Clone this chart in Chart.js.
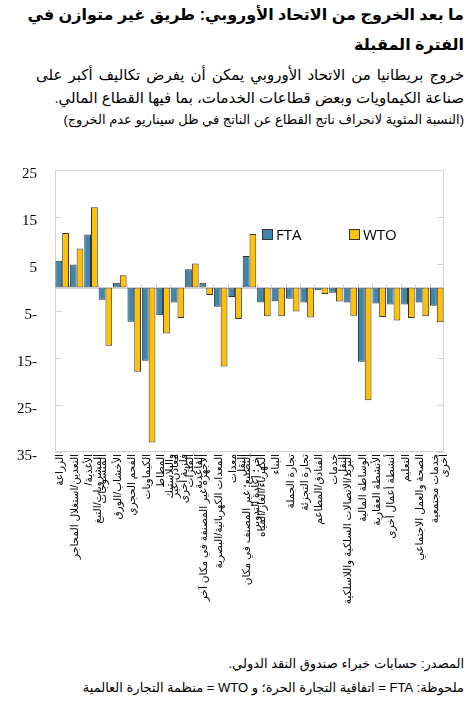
<!DOCTYPE html>
<html lang="ar">
<head>
<meta charset="utf-8">
<script src="https://cdn.jsdelivr.net/npm/chart.js@4.4.1/dist/chart.umd.min.js"></script>
<style>
  html, body { margin: 0; padding: 0; background: #fff; }
  body { width: 472px; height: 709px; position: relative; overflow: hidden;
         font-family: "Liberation Sans", "DejaVu Sans", sans-serif; color: #000; }
  .txt { position: absolute; right: 8px; direction: rtl; text-align: right; white-space: nowrap; }
  .just { position: absolute; right: 8px; direction: rtl; white-space: nowrap; text-align: justify; text-align-last: justify; }
  #title1 { top: 3px; width: 428px; font-size: 16px; font-weight: bold; line-height: 24px; }
  #title2 { top: 33px; font-size: 16px; font-weight: bold; line-height: 24px; }
  #sub1 { top: 64px; width: 428px; font-size: 15px; line-height: 22px; }
  #sub2 { top: 87px; font-size: 15px; line-height: 22px; }
  #unit { top: 112px; font-size: 13px; }
  #notes { top: 652px; font-size: 13px; line-height: 24px; }
  #chartBox { position: absolute; left: 0; top: 143px; width: 472px; height: 507px; }
  #chartBox canvas { direction: rtl; }
  .lg { position: absolute; font-size: 15px; line-height: 15px; font-family: "Open Sans", "Liberation Sans", sans-serif; }
  .lg i { position: absolute; width: 9px; height: 9px; border: 1px solid #333; top: 2px; left: -14px; }
</style>
</head>
<body>
<div id="title1" class="just">ما بعد الخروج من الاتحاد الأوروبي: طريق غير متوازن في</div>
<div id="title2" class="txt">الفترة المقبلة</div>
<div id="sub1" class="just">خروج بريطانيا من الاتحاد الأوروبي يمكن أن يفرض تكاليف أكبر على</div>
<div id="sub2" class="txt">صناعة الكيماويات وبعض قطاعات الخدمات، بما فيها القطاع المالي.</div>
<div id="unit" class="txt">(النسبة المئوية لانحراف ناتج القطاع عن الناتج في ظل سيناريو عدم الخروج)</div>

<div id="chartBox"><canvas id="chart"></canvas></div>
<div class="lg" style="left:276px; top:227px;"><i style="background:#3f86ad"></i>FTA</div>
<div class="lg" style="left:363px; top:227px;"><i style="background:#ffc000"></i>WTO</div>

<div id="notes" class="txt">المصدر: حسابات خبراء صندوق النقد الدولي.<br>ملحوظة: FTA = اتفاقية التجارة الحرة؛ و WTO = منظمة التجارة العالمية</div>

<script>
/* ------------------- DATA ------------------- */
const categories = [
  "الزراعة",
  "التعدين/استغلال المحاجر",
  ["الأغذية/", "المشروبات/التبغ"],
  "المنسوجات",
  "الأخشاب/الورق",
  "الفحم الحجري",
  "الكيماويات",
  ["المطاط", "والبلاستيك"],
  ["معادن غير", "فلزية أخرى"],
  ["الفلزات", "القاعدية"],
  "الأجهزة غير المصنفة في مكان آخر",
  "المعدات الكهربائية/البصرية",
  ["معدات", "النقل"],
  ["التصنيع؛ غير المصنف في مكان", "آخر؛ إعادة التدوير"],
  "الكهرباء/الغاز/المياه",
  "البناء",
  "تجارة الجملة",
  "تجارة التجزئة",
  "الفنادق/المطاعم",
  ["خدمات", "النقل"],
  "البريد/الاتصالات السلكية واللاسلكية",
  "الوساطة المالية",
  "الأنشطة العقارية",
  "أنشطة أعمال أخرى",
  "التعليم",
  "الصحة والعمل الاجتماعي",
  ["خدمات مجتمعية", "أخرى"]
];

const ftaValues = [5.7, 4.9, 11.3, -2.6, 1.0, -7.3, -15.6, -5.9, -3.2, 3.9, 1.0, -4.1, -2.0, 6.7,
                   -3.2, -2.9, -2.4, -3.2, -0.6, -1.1, -3.2, -15.8, -3.4, -3.6, -3.6, -3.2, -3.9];
const wtoValues = [11.6, 8.3, 17.1, -12.4, 2.6, -17.9, -33.0, -9.8, -6.5, 5.1, -1.6, -16.8, -6.7, 11.4,
                   -6.1, -6.1, -5.1, -6.4, -1.4, -3.0, -6.0, -24.0, -6.3, -7.0, -6.5, -6.1, -7.4];

const Y_MIN = -35;
const Y_MAX = 25;
const Y_STEP = 10;

/* ------------------- FRAME / ZERO LINE ------------------- */
const framePlugin = {
  id: "frame",
  beforeDatasetsDraw(chart) {
    const { ctx, chartArea: a, scales: { x, y } } = chart;
    const line = (x1, y1, x2, y2) => { ctx.beginPath(); ctx.moveTo(x1, y1); ctx.lineTo(x2, y2); ctx.stroke(); };
    ctx.save();
    ctx.lineWidth = 1;
    ctx.strokeStyle = "#d2d2d2";
    ctx.strokeRect(Math.round(a.left) + 0.5, Math.round(a.top) + 0.5,
                   Math.round(a.right - a.left) - 1, Math.round(a.bottom - a.top) - 1);
    // small marks inside the frame at every y tick
    y.ticks.forEach(t => {
      const py = Math.round(y.getPixelForValue(t.value)) + 0.5;
      line(a.left, py, a.left + 7, py);
      line(a.right - 7, py, a.right, py);
    });
    // zero line with category marks
    const y0 = Math.round(y.getPixelForValue(0)) + 0.5;
    line(a.left, y0, a.right, y0);
    for (let i = 1; i < categories.length; i++) {
      const bx = Math.round((x.getPixelForValue(i - 1) + x.getPixelForValue(i)) / 2) + 0.5;
      line(bx, y0 - 4, bx, y0);
    }
    ctx.restore();
  }
};

/* ------------------- CHART ------------------- */
new Chart(document.getElementById("chart"), {
  type: "bar",
  data: {
    labels: categories,
    datasets: [
      { label: "FTA", data: ftaValues, backgroundColor: "#3f86ad", borderColor: "#333",
        borderWidth: 1, borderSkipped: false, categoryPercentage: 0.94, barPercentage: 1.0 },
      { label: "WTO", data: wtoValues, backgroundColor: "#ffc000", borderColor: "#333",
        borderWidth: 1, borderSkipped: false, categoryPercentage: 0.94, barPercentage: 1.0 }
    ]
  },
  options: {
    responsive: true,
    maintainAspectRatio: false,
    animation: false,
    layout: { padding: { top: 13, right: 28, left: 0, bottom: 0 } },
    plugins: { legend: { display: false }, tooltip: { enabled: false } },
    scales: {
      x: {
        grid: { display: false, drawTicks: false },
        border: { display: false },
        ticks: {
          autoSkip: false, minRotation: 90, maxRotation: 90, padding: 2, labelOffset: -2, color: "#000",
          font: { family: '"Liberation Sans", "DejaVu Sans", sans-serif', size: 10.5, lineHeight: 0.85 }
        },
        afterFit: s => { s.height = 198; }
      },
      y: {
        min: Y_MIN, max: Y_MAX,
        grid: { display: false, drawTicks: false },
        border: { display: false },
        ticks: {
          stepSize: Y_STEP, padding: 18, labelOffset: 4, color: "#000",
          font: { family: '"Liberation Serif", serif', size: 15 },
          callback: v => v < 0 ? "\u202D" + Math.abs(v) + "-\u202C" : String(v)
        },
        afterFit: s => { s.width = 55; }
      }
    }
  },
  plugins: [framePlugin]
});
</script>
</body>
</html>
